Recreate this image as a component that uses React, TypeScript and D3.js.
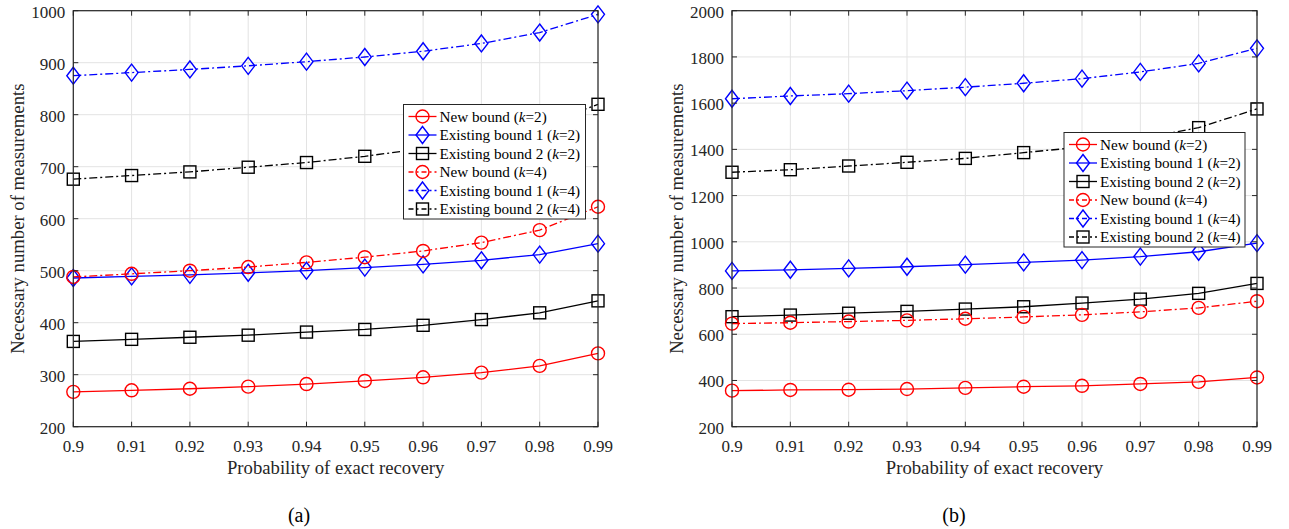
import React, { useEffect, useRef } from 'react';
import * as d3 from 'd3';

const probs = [0.9, 0.91, 0.92, 0.93, 0.94, 0.95, 0.96, 0.97, 0.98, 0.99];
const xTicks = ['0.9', '0.91', '0.92', '0.93', '0.94', '0.95', '0.96', '0.97', '0.98', '0.99'];

// panel (a)
const aNewK2 = [267, 270, 273, 277, 282, 288, 295, 304, 317, 341];
const aEx1K2 = [486, 489, 492, 496, 500, 506, 512, 520, 531, 552];
const aEx2K2 = [364, 368, 372, 376, 382, 387, 395, 406, 419, 442];
const aNewK4 = [488, 494, 500, 507, 516, 526, 538, 554, 578, 623];
const aEx1K4 = [875, 881, 887, 894, 902, 911, 922, 937, 958, 993];
const aEx2K4 = [676, 683, 690, 699, 708, 720, 735, 753, 778, 820];
const aYTicks = [200, 300, 400, 500, 600, 700, 800, 900, 1000];

// panel (b)
const bNewK2 = [356, 359, 360, 363, 368, 373, 377, 385, 394, 413];
const bEx1K2 = [874, 879, 885, 892, 901, 911, 921, 936, 957, 994];
const bEx2K2 = [676, 683, 691, 699, 709, 719, 735, 752, 777, 820];
const bNewK4 = [646, 650, 655, 660, 667, 675, 684, 697, 714, 743];
const bEx1K4 = [1619, 1631, 1641, 1654, 1669, 1686, 1706, 1735, 1772, 1837];
const bEx2K4 = [1301, 1312, 1328, 1344, 1361, 1386, 1410, 1446, 1494, 1575];
const bYTicks = [200, 400, 600, 800, 1000, 1200, 1400, 1600, 1800, 2000];

const seriesNames = ['New bound', 'Existing bound 1', 'Existing bound 2', 'New bound', 'Existing bound 1', 'Existing bound 2'];
const seriesK = ['2', '2', '2', '4', '4', '4'];
const seriesColor = ['#ff0000', '#0000ff', '#000000', '#ff0000', '#0000ff', '#000000'];
const seriesMarker = ['circle', 'diamond', 'square', 'circle', 'diamond', 'square'];
const seriesDash = [null, null, null, '8,3,2,3', '8,3,2,3', '8,3,2,3'];

const FONT = 'Liberation Serif';

function drawMarker(g: any, type: string, x: number, y: number, color: string) {
  if (type === 'circle') {
    g.append('circle').attr('cx', x).attr('cy', y).attr('r', 6.5)
      .attr('fill', 'none').attr('stroke', color).attr('stroke-width', 1.4);
  } else if (type === 'diamond') {
    g.append('path').attr('d', `M${x},${y - 8.5}L${x + 6.5},${y}L${x},${y + 8.5}L${x - 6.5},${y}Z`)
      .attr('fill', 'none').attr('stroke', color).attr('stroke-width', 1.4);
  } else {
    g.append('rect').attr('x', x - 6).attr('y', y - 6).attr('width', 12).attr('height', 12)
      .attr('fill', 'none').attr('stroke', color).attr('stroke-width', 1.4);
  }
}

function drawPanel(svg: any, opts: any) {
  const { left, right, top, bottom, yMax, yTicks, data, legend, caption, yLabelX } = opts;
  const x = d3.scaleLinear().domain([0.9, 0.99]).range([left, right]);
  const y = d3.scaleLinear().domain([200, yMax]).range([bottom, top]);
  const g = svg.append('g').style('font-family', FONT);

  // grid
  probs.forEach((p) => {
    g.append('line').attr('x1', x(p)).attr('x2', x(p)).attr('y1', top).attr('y2', bottom)
      .attr('stroke', '#e3e3e3').attr('stroke-width', 1);
  });
  yTicks.forEach((t: number) => {
    g.append('line').attr('x1', left).attr('x2', right).attr('y1', y(t)).attr('y2', y(t))
      .attr('stroke', '#e3e3e3').attr('stroke-width', 1);
  });

  // series
  data.forEach((vals: number[], i: number) => {
    const line = d3.line<number>().x((_, j) => x(probs[j])).y((d) => y(d));
    const path = g.append('path').attr('d', line(vals)).attr('fill', 'none')
      .attr('stroke', seriesColor[i]).attr('stroke-width', 1.3);
    if (seriesDash[i]) path.attr('stroke-dasharray', seriesDash[i]);
    vals.forEach((v, j) => drawMarker(g, seriesMarker[i], x(probs[j]), y(v), seriesColor[i]));
  });

  // box + ticks
  g.append('rect').attr('x', left).attr('y', top).attr('width', right - left).attr('height', bottom - top)
    .attr('fill', 'none').attr('stroke', '#262626').attr('stroke-width', 1.2);
  probs.forEach((p, i) => {
    g.append('line').attr('x1', x(p)).attr('x2', x(p)).attr('y1', bottom).attr('y2', bottom - 5).attr('stroke', '#262626');
    g.append('line').attr('x1', x(p)).attr('x2', x(p)).attr('y1', top).attr('y2', top + 5).attr('stroke', '#262626');
    g.append('text').attr('x', x(p)).attr('y', bottom + 25).attr('text-anchor', 'middle')
      .attr('font-size', 17).attr('fill', '#262626').text(xTicks[i]);
  });
  yTicks.forEach((t: number) => {
    g.append('line').attr('x1', left).attr('x2', left + 5).attr('y1', y(t)).attr('y2', y(t)).attr('stroke', '#262626');
    g.append('line').attr('x1', right).attr('x2', right - 5).attr('y1', y(t)).attr('y2', y(t)).attr('stroke', '#262626');
    g.append('text').attr('x', left - 8).attr('y', y(t) + 7).attr('text-anchor', 'end')
      .attr('font-size', 17).attr('fill', '#262626').text(String(t));
  });

  // axis labels
  g.append('text').attr('x', (left + right) / 2).attr('y', bottom + 47).attr('text-anchor', 'middle')
    .attr('font-size', 18.7).attr('fill', '#262626').text('Probability of exact recovery');
  g.append('text').attr('transform', `translate(${yLabelX},${(top + bottom) / 2}) rotate(-90)`)
    .attr('text-anchor', 'middle').attr('font-size', 18.7).attr('fill', '#262626')
    .text('Necessary number of measurements');
  g.append('text').attr('x', caption.x).attr('y', 522).attr('text-anchor', 'middle')
    .attr('font-size', 20).attr('fill', '#000').text(caption.text);

  // legend
  const lg = g.append('g');
  lg.append('rect').attr('x', legend.x).attr('y', legend.y).attr('width', legend.w).attr('height', legend.h)
    .attr('fill', '#fff').attr('stroke', '#262626').attr('stroke-width', 1);
  seriesNames.forEach((name, i) => {
    const cy = legend.y + 12 + i * 18.5;
    const lx = legend.x + 5;
    const ln = lg.append('line').attr('x1', lx).attr('x2', lx + 28).attr('y1', cy).attr('y2', cy)
      .attr('stroke', seriesColor[i]).attr('stroke-width', 1.3);
    if (seriesDash[i]) ln.attr('stroke-dasharray', '5,3,2,3');
    drawMarker(lg, seriesMarker[i], lx + 14, cy, seriesColor[i]);
    const t = lg.append('text').attr('x', legend.x + 36).attr('y', cy + 5)
      .attr('font-size', 15.2).attr('fill', '#000');
    t.append('tspan').text(`${name} (`);
    t.append('tspan').attr('font-style', 'italic').text('k');
    t.append('tspan').text(`=${seriesK[i]})`);
  });
}

export default function App() {
  const ref = useRef<SVGSVGElement>(null);

  useEffect(() => {
    const svg = d3.select(ref.current);
    svg.selectAll('*').remove();
    drawPanel(svg, {
      left: 73.3, right: 598, top: 10.7, bottom: 426.7, yMax: 1000, yTicks: aYTicks,
      data: [aNewK2, aEx1K2, aEx2K2, aNewK4, aEx1K4, aEx2K4],
      legend: { x: 403.5, y: 104.5, w: 182, h: 114.5 },
      caption: { x: 299, text: '(a)' },
      yLabelX: 24,
    });
    drawPanel(svg, {
      left: 732, right: 1257, top: 10.7, bottom: 426.7, yMax: 2000, yTicks: bYTicks,
      data: [bNewK2, bEx1K2, bEx2K2, bNewK4, bEx1K4, bEx2K4],
      legend: { x: 1064, y: 132.5, w: 181, h: 114.5 },
      caption: { x: 954, text: '(b)' },
      yLabelX: 683,
    });
  }, []);

  return (
    <svg ref={ref} width={1289} height={529}
      style={{ position: 'absolute', left: 0, top: 0, background: '#fff' }} />
  );
}
